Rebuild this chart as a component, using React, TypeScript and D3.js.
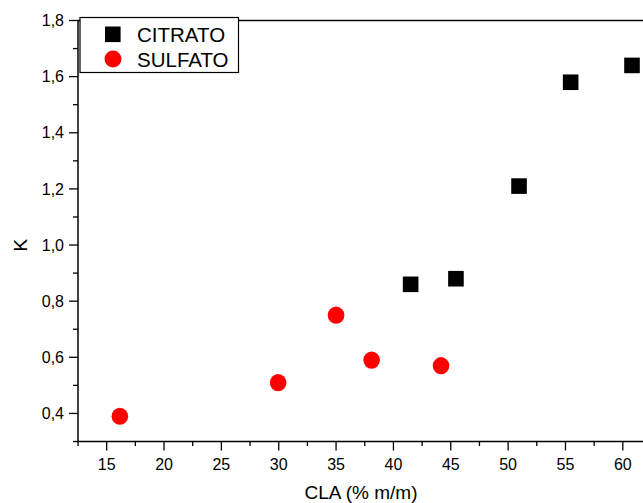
import React from "react";
import * as d3 from "d3";

const citratoX = [41.5, 45.45, 50.95, 55.45, 60.8];
const citratoY = [0.86, 0.88, 1.21, 1.58, 1.64];
const sulfatoX = [16.15, 29.95, 35.0, 38.1, 44.15];
const sulfatoY = [0.39, 0.51, 0.75, 0.59, 0.57];
const xMajorTicks = [15, 20, 25, 30, 35, 40, 45, 50, 55, 60];
const xMinorTicks = [12.5, 17.5, 22.5, 27.5, 32.5, 37.5, 42.5, 47.5, 52.5, 57.5, 62.5];
const yMajorTicks = [0.4, 0.6, 0.8, 1.0, 1.2, 1.4, 1.6, 1.8];
const yMinorTicks = [0.3, 0.5, 0.7, 0.9, 1.1, 1.3, 1.5, 1.7];
const legendLabels = ["CITRATO", "SULFATO"];

const W = 643;
const H = 503;
const FONT = "Liberation Sans, Arial, Helvetica, sans-serif";

export default function App() {
  const x = d3.scaleLinear().domain([12.5, 65]).range([78, 78 + 52.5 * 11.47]);
  const y = d3.scaleLinear().domain([0.3, 1.8]).range([441.5, 20.5]);
  const x0 = 78;
  const yB = 441.5;
  const yT = 20.5;
  const fmt = (v: number) => v.toFixed(1).replace(".", ",");
  return (
    <svg
      width={W}
      height={H}
      style={{ position: "absolute", left: 0, top: 0, background: "#fff" }}
      fontFamily={FONT}
    >
      <rect x={0} y={0} width={W} height={H} fill="#fff" />
      {/* frame */}
      <line x1={x0} x2={W + 10} y1={yT} y2={yT} stroke="#000" strokeWidth={1.5} />
      <line x1={x0} x2={x0} y1={yT} y2={yB} stroke="#000" strokeWidth={1.5} />
      <line x1={x0} x2={W + 10} y1={yB} y2={yB} stroke="#000" strokeWidth={1.5} />
      {/* y ticks */}
      {yMajorTicks.map((t) => (
        <g key={"ym" + t}>
          <line x1={x0 - 9} x2={x0} y1={y(t)} y2={y(t)} stroke="#000" strokeWidth={1.3} />
          <text x={x0 - 14} y={y(t)} dy="0.35em" textAnchor="end" fontSize={16}>
            {fmt(t)}
          </text>
        </g>
      ))}
      {yMinorTicks.map((t) => (
        <line key={"yn" + t} x1={x0 - 5} x2={x0} y1={y(t)} y2={y(t)} stroke="#000" strokeWidth={1.3} />
      ))}
      {/* x ticks */}
      {xMajorTicks.map((t) => (
        <g key={"xm" + t}>
          <line x1={x(t)} x2={x(t)} y1={yB} y2={yB + 9} stroke="#000" strokeWidth={1.3} />
          <text x={x(t)} y={469.5} textAnchor="middle" fontSize={16}>
            {t}
          </text>
        </g>
      ))}
      {xMinorTicks.map((t) => (
        <line key={"xn" + t} x1={x(t)} x2={x(t)} y1={yB} y2={yB + 4.5} stroke="#000" strokeWidth={1.3} />
      ))}
      {/* axis titles */}
      <text x={361} y={499} textAnchor="middle" fontSize={19}>
        CLA (% m/m)
      </text>
      <text
        transform={`translate(27, ${y(1.0)}) rotate(-90)`}
        textAnchor="middle"
        fontSize={19}
      >
        K
      </text>
      {/* data */}
      {citratoX.map((v, i) => (
        <rect
          key={"c" + i}
          x={x(v) - 7.8}
          y={y(citratoY[i]) - 7.8}
          width={15.6}
          height={15.6}
          fill="#000"
        />
      ))}
      {sulfatoX.map((v, i) => (
        <ellipse key={"s" + i} cx={x(v)} cy={y(sulfatoY[i])} rx={8.3} ry={8.6} fill="#ff0000" />
      ))}
      {/* legend */}
      <rect x={80} y={17.5} width={158.5} height={55} fill="#fff" stroke="#000" strokeWidth={1.2} />
      <rect x={105} y={26.5} width={15.6} height={15.6} fill="#000" />
      <ellipse cx={113} cy={59} rx={8.5} ry={8.5} fill="#ff0000" />
      <text x={137} y={41.7} fontSize={20.5}>
        {legendLabels[0]}
      </text>
      <text x={137} y={66.7} fontSize={20.5}>
        {legendLabels[1]}
      </text>
    </svg>
  );
}
